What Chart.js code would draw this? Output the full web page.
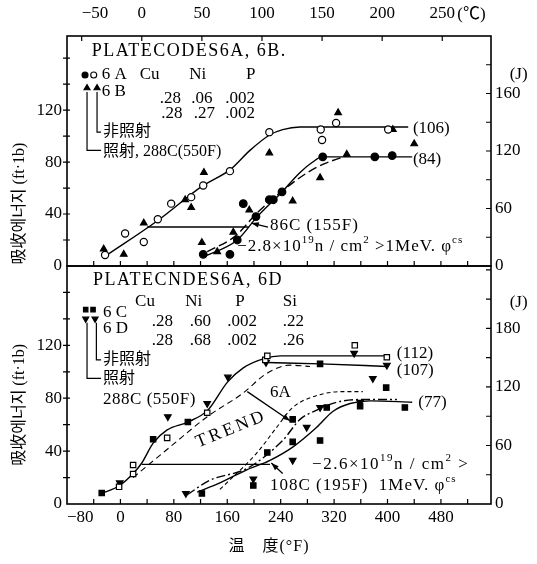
<!DOCTYPE html>
<html>
<head>
<meta charset="utf-8">
<script src="https://cdn.jsdelivr.net/npm/chart.js"></script>
<style>
  body { margin: 0; background: #fff; }
  canvas { position: absolute; left: 0; top: 0; }
</style>
</head>
<body>
<canvas id="topPanel" width="537" height="564"></canvas>
<canvas id="botPanel" width="537" height="564"></canvas>
<script>
// axis ranges and tick labels
const F_MIN = -80, F_MAX = 555;
const FT_MAX_TOP = 177, FT_MAX_BOT = 180;
const FT_TO_J = 1.3558;
const fTicks = [-80, 0, 80, 160, 240, 320, 400, 480];
const cTicks = [-50, 0, 50, 100, 150, 200, 250];
const ftTicks = [0, 40, 80, 120];
const jTicks = [0, 60, 120, 180];
const jLabelsTop = ['0', '60', '120', '160'];
const jLabelsBot = ['0', '60', '120', '180'];

// top panel, plates 6A / 6B  [temp °F, energy ft-lb]
const top6AUnirr = [[-23,8.5],[7,25],[35,18.5],[56,36],[76,48],[106,53],[124,62],[164,73],[223,103],[300,105],[302,97],[323,110],[401,105]];
const top6AIrr = [[124,9],[164,9],[175,20],[184,48],[203,38],[223,51],[229,51],[242,57],[303,84],[381,84],[407,85]];
const top6BUnirr = [[-25,13],[5,9],[35,33],[97,51],[106,45],[125,72],[223,87],[326,118],[408,105],[440,94]];
const top6BIrr = [[122,18],[145,11],[169,26],[193,43],[258,50],[299,68],[339,86]];
const topCurveUnirr = [[-20,8.5],[56,35],[124,62],[164,74],[194,89],[224,101],[243,105],[269,107],[299,107],[431,107]];
const topCurve6AIrr = [[124,7],[175,20],[205,38],[242,57],[269,72],[288,80],[302,84],[437,84]];
const topCurve6BIrr = [[130,11],[172,23],[205,41],[258,64],[294,76],[339,85]];
const topShift = [[40,30],[192,30]];

// bottom panel, plates 6C / 6D
const bot6CUnirr = [[-2,13],[19,29.5],[19,22.7],[70,50],[130,69],[217,109],[220,112],[351,120],[399,111]];
const bot6CFilled = [[-28,8.3],[49,49],[101,62],[299,106],[398,88],[122,8],[199,14],[220,39],[258,47],[258,64],[299,48],[309,73],[359,74],[426,73]];
const bot6DUnirr = [[-1,16],[71,66],[130,76],[161,96],[218,107],[350,114],[399,105],[378,95]];
const bot6DIrr = [[98,8],[199,19],[258,33],[279,58],[299,73],[359,77]];
const botCurve112 = [[-28,8],[-1,14],[19,23],[32,31],[49,46],[70,56],[101,62],[131,71],[160,92],[184,103],[215,110],[240,112],[399,112]];
const botCurve107 = [[220,107],[300,106],[399,104]];
const botTrendUnirr = [[19,20],[74,43],[130,66],[184,84],[217,98],[254,105],[284,104]];
const botTrendIrr = [[149,11],[205,39],[234,58],[258,73],[294,82],[333,85],[363,85]];
const botCurve6DIrr = [[100,7],[134,18],[190,27],[243,48],[269,64],[294,71],[324,77],[359,79],[414,79]];
const botCurve6CIrr = [[115,9],[149,16],[190,26],[224,33],[258,43],[294,58],[318,70],[344,76],[374,78],[437,77]];
const botShift = [[32,30],[224,30]];

const FONT = "'Liberation Serif', 'Noto Sans CJK KR', serif";
const toC = f => (f - 32) / 1.8;
const minus = v => (v < 0 ? '\u2212' + Math.abs(v) : String(v));

function pts(a) { return a.map(p => ({ x: p[0], y: p[1] })); }

function markers(data, style, fill, r, rot) {
  return {
    data: pts(data), showLine: false, pointStyle: style, pointRadius: r,
    pointRotation: rot || 0, pointBackgroundColor: fill, pointBorderColor: '#000', pointBorderWidth: 1.2
  };
}
function curve(data, dash, w) {
  return {
    data: pts(data), showLine: true, pointRadius: 0, borderColor: '#000',
    borderWidth: w || 1.4, borderDash: dash || [], cubicInterpolationMode: 'monotone', fill: false
  };
}

function drawRich(ctx, str, x, y, size, sp) {
  const parts = str.split(/\^\{([^}]*)\}/);
  let cx = x;
  parts.forEach((p, i) => {
    if (!p) return;
    const sup = i % 2 === 1;
    ctx.font = (sup ? Math.round(size * 0.62) : size) + 'px ' + FONT;
    ctx.letterSpacing = (sp || 0) + 'px';
    ctx.fillText(p, cx, sup ? y - size * 0.38 : y);
    cx += ctx.measureText(p).width;
  });
  ctx.letterSpacing = '0px';
}

function symbol(ctx, kind, x, y, r) {
  ctx.beginPath();
  if (kind === 'dot' || kind === 'ring') {
    ctx.arc(x, y, r, 0, Math.PI * 2);
  } else if (kind === 'tri') {
    ctx.moveTo(x, y - r); ctx.lineTo(x + r * 0.87, y + r * 0.5); ctx.lineTo(x - r * 0.87, y + r * 0.5); ctx.closePath();
  } else if (kind === 'vtri') {
    ctx.moveTo(x, y + r); ctx.lineTo(x + r * 0.87, y - r * 0.5); ctx.lineTo(x - r * 0.87, y - r * 0.5); ctx.closePath();
  } else {
    ctx.rect(x - r * 0.7, y - r * 0.7, r * 1.4, r * 1.4);
  }
  ctx.fillStyle = kind === 'ring' ? '#fff' : '#000';
  ctx.fill();
  ctx.lineWidth = 1.1;
  ctx.stroke();
  ctx.fillStyle = '#000';
}

const notesPlugin = {
  id: 'notes',
  afterDraw(chart, args, opts) {
    const ctx = chart.ctx, a = chart.chartArea;
    const sx = chart.scales.x, sy = chart.scales.y, sj = chart.scales.yJ;
    const P = (q) => [sx.getPixelForValue(q[0]), sy.getPixelForValue(q[1])];
    ctx.save();
    ctx.strokeStyle = '#000';
    ctx.fillStyle = '#000';
    ctx.lineWidth = 1.6;
    ctx.strokeRect(a.left, a.top, a.right - a.left, a.bottom - a.top);

    ctx.lineWidth = 1.2;
    ctx.beginPath();
    for (let v = 20; v < sy.max; v += 20) {
      const y = sy.getPixelForValue(v);
      ctx.moveTo(a.left - 4, y); ctx.lineTo(a.left + 3, y);
    }
    for (let v = 30; v < sj.max; v += 30) {
      const y = sj.getPixelForValue(v);
      ctx.moveTo(a.right, y); ctx.lineTo(a.right - 5, y);
    }
    for (let v = -40; v < sx.max; v += 40) {
      const x = sx.getPixelForValue(v);
      ctx.moveTo(x, a.bottom); ctx.lineTo(x, a.bottom - 5);
    }
    if (chart.scales.xC) {
      cTicks.forEach(v => {
        const x = chart.scales.xC.getPixelForValue(v);
        ctx.moveTo(x, a.top); ctx.lineTo(x, a.top + 5);
      });
    }
    ctx.stroke();

    (opts.lines || []).forEach(l => {
      ctx.beginPath();
      l.forEach((q, i) => { const p = P(q); i ? ctx.lineTo(p[0], p[1]) : ctx.moveTo(p[0], p[1]); });
      ctx.lineWidth = 1.2;
      ctx.stroke();
    });
    (opts.arrows || []).forEach(ar => {
      const p0 = P(ar[0]), p1 = P(ar[1]);
      const ang = Math.atan2(p1[1] - p0[1], p1[0] - p0[0]);
      ctx.beginPath();
      ctx.moveTo(p0[0], p0[1]); ctx.lineTo(p1[0], p1[1]);
      ctx.lineWidth = 1.3;
      ctx.stroke();
      ctx.beginPath();
      ctx.moveTo(p1[0], p1[1]);
      ctx.lineTo(p1[0] - 8 * Math.cos(ang - 0.35), p1[1] - 8 * Math.sin(ang - 0.35));
      ctx.lineTo(p1[0] - 8 * Math.cos(ang + 0.35), p1[1] - 8 * Math.sin(ang + 0.35));
      ctx.closePath();
      ctx.fill();
    });
    (opts.symbols || []).forEach(s => { const p = P(s.at); symbol(ctx, s.kind, p[0], p[1], s.r); });

    ctx.textBaseline = 'middle';
    ctx.textAlign = 'left';
    (opts.texts || []).forEach(t => {
      const p = P(t.at);
      ctx.save();
      ctx.translate(p[0], p[1]);
      if (t.rot) ctx.rotate(t.rot * Math.PI / 180);
      drawRich(ctx, t.t, 0, 0, t.size || 17, t.sp || 0);
      ctx.restore();
    });

    if (opts.yTitle) {
      ctx.save();
      ctx.translate(a.left - 47, sy.getPixelForValue(opts.yTitle.at));
      ctx.rotate(-Math.PI / 2);
      ctx.textAlign = 'center';
      ctx.font = '16px ' + FONT;
      ctx.fillText(opts.yTitle.t, 0, 0);
      ctx.restore();
    }
    if (chart.scales.xC) {
      ctx.font = '17px ' + FONT;
      ctx.fillText('(\u2103)', chart.scales.xC.getPixelForValue(250) + 15, 15);
    }
    if (opts.xTitle) {
      ctx.font = '16px ' + FONT;
      ctx.textAlign = 'center';
      ctx.letterSpacing = '1px';
      ctx.fillText(opts.xTitle, (a.left + a.right) / 2 - 10, 547);
      ctx.letterSpacing = '0px';
    }
    ctx.restore();
  }
};

function tickFont() { return { family: FONT, size: 17 }; }

function yScales(max, jLabels) {
  return {
    y: {
      position: 'left', min: 0, max: max,
      grid: { display: false, drawTicks: false }, border: { display: false },
      ticks: { font: tickFont(), color: '#000', padding: 5, callback: v => minus(v) },
      afterBuildTicks: s => { s.ticks = ftTicks.map(v => ({ value: v })); },
      afterFit: s => { s.width = 67; }
    },
    yJ: {
      position: 'right', min: 0, max: max * FT_TO_J,
      grid: { display: false, drawTicks: false }, border: { display: false },
      ticks: { font: tickFont(), color: '#000', padding: 4, callback: (v, i) => jLabels[i] },
      afterBuildTicks: s => { s.ticks = jTicks.map(v => ({ value: v })); },
      afterFit: s => { s.width = 46; }
    }
  };
}

// top panel
const topScales = Object.assign({
  x: { type: 'linear', min: F_MIN, max: F_MAX, display: false },
  xC: {
    type: 'linear', position: 'top', min: toC(F_MIN), max: toC(F_MAX),
    grid: { display: false, drawTicks: false }, border: { display: false },
    ticks: { font: tickFont(), color: '#000', padding: 12, align: 'inner', callback: v => (cTicks.includes(v) ? minus(v) : '') },
    afterBuildTicks: s => { s.ticks = cTicks.concat([toC(F_MAX)]).map(v => ({ value: v })); },
    afterFit: s => { s.height = 36; }
  }
}, yScales(FT_MAX_TOP, jLabelsTop));

new Chart('topPanel', {
  type: 'scatter',
  data: {
    datasets: [
      markers(top6AUnirr, 'circle', '#fff', 3.6),
      markers(top6AIrr, 'circle', '#000', 3.8),
      markers(top6BUnirr, 'triangle', '#000', 3.8),
      markers(top6BIrr, 'triangle', '#000', 3.8),
      curve(topCurveUnirr),
      curve(topCurve6AIrr),
      curve(topCurve6BIrr, [9, 4]),
      curve(topShift)
    ]
  },
  options: {
    responsive: false, animation: false, devicePixelRatio: 1,
    layout: { padding: { top: 0, bottom: 564 - 266, left: 0, right: 0 } },
    scales: topScales,
    plugins: {
      legend: { display: false }, tooltip: { enabled: false },
      notes: {
        yTitle: { t: '吸收에너지 (ft·1b)', at: 48 },
        texts: [
          { t: 'PLATECODES6A, 6B.', at: [-43, 165], size: 18, sp: 1.5 },
          { t: '6 A', at: [-28, 147] }, { t: 'Cu', at: [29, 147] }, { t: 'Ni', at: [103, 147] }, { t: 'P', at: [188, 147] },
          { t: '6 B', at: [-28, 134] },
          { t: '.28', at: [59, 129] }, { t: '.06', at: [106, 129] }, { t: '.002', at: [157, 129] },
          { t: '.28', at: [61, 117] }, { t: '.27', at: [110, 117] }, { t: '.002', at: [157, 117] },
          { t: '非照射', at: [-26, 103], size: 16 },
          { t: '照射, 288C(550F)', at: [-26, 88], size: 16 },
          { t: '(106)', at: [438, 106] },
          { t: '(84)', at: [438, 82] },
          { t: '86C (155F)', at: [224, 31], sp: 1 },
          { t: '\u22122.8\u00d710^{19}n / cm^{2} >1MeV. \u03c6^{cs}', at: [175, 15], sp: 1 },
          { t: '(J)', at: [583, 147] }
        ],
        symbols: [
          { kind: 'dot', at: [-53, 147], r: 3 }, { kind: 'ring', at: [-40, 147], r: 3 },
          { kind: 'tri', at: [-50, 137], r: 3.5 }, { kind: 'tri', at: [-35, 137], r: 3.5 }
        ],
        lines: [
          [[-50, 134], [-50, 89], [-29, 89]],
          [[-35, 134], [-35, 103], [-29, 103]]
        ],
        arrows: [[[221, 30], [196, 33]]]
      }
    }
  },
  plugins: [notesPlugin]
});

// bottom panel
const botScales = Object.assign({
  x: {
    type: 'linear', position: 'bottom', min: F_MIN, max: F_MAX,
    grid: { display: false, drawTicks: false }, border: { display: false },
    ticks: { font: tickFont(), color: '#000', padding: 3, align: 'inner', callback: v => (fTicks.includes(v) ? minus(v) : '') },
    afterBuildTicks: s => { s.ticks = fTicks.concat([F_MAX]).map(v => ({ value: v })); },
    afterFit: s => { s.height = 60; }
  }
}, yScales(FT_MAX_BOT, jLabelsBot));

new Chart('botPanel', {
  type: 'scatter',
  data: {
    datasets: [
      markers(bot6CUnirr, 'rect', '#fff', 3.8),
      markers(bot6CFilled, 'rect', '#000', 3.8),
      markers(bot6DUnirr, 'triangle', '#000', 3.8, 180),
      markers(bot6DIrr, 'triangle', '#000', 3.8, 180),
      curve(botCurve112),
      curve(botCurve107),
      curve(botTrendUnirr, [6, 4], 1.1),
      curve(botTrendIrr, [4, 3], 1.1),
      curve(botCurve6DIrr, [9, 3, 2, 3]),
      curve(botCurve6CIrr),
      curve(botShift)
    ]
  },
  options: {
    responsive: false, animation: false, devicePixelRatio: 1,
    layout: { padding: { top: 266, bottom: 0, left: 0, right: 0 } },
    scales: botScales,
    plugins: {
      legend: { display: false }, tooltip: { enabled: false },
      notes: {
        yTitle: { t: '吸收에너지 (ft·1b)', at: 75 },
        xTitle: '温　度(°F)',
        texts: [
          { t: 'PLATECNDES6A, 6D', at: [-41, 169], size: 18, sp: 1.5 },
          { t: '6 C', at: [-26, 145] }, { t: 'Cu', at: [22, 153] }, { t: 'Ni', at: [97, 153] }, { t: 'P', at: [172, 153] }, { t: 'Si', at: [243, 153] },
          { t: '6 D', at: [-26, 133] },
          { t: '.28', at: [47, 138] }, { t: '.60', at: [104, 138] }, { t: '.002', at: [160, 138] }, { t: '.22', at: [243, 138] },
          { t: '.28', at: [47, 124] }, { t: '.68', at: [104, 124] }, { t: '.002', at: [160, 124] }, { t: '.26', at: [243, 124] },
          { t: '非照射', at: [-26, 109], size: 16 },
          { t: '照射', at: [-26, 95], size: 16 },
          { t: '288C (550F)', at: [-26, 79], sp: 0.5 },
          { t: 'TREND', at: [114, 46], size: 18, sp: 3, rot: -22 },
          { t: '6A', at: [224, 84] },
          { t: '(112)', at: [414, 114] },
          { t: '(107)', at: [414, 101] },
          { t: '(77)', at: [446, 77] },
          { t: '\u22122.6\u00d710^{19}n / cm^{2} >', at: [287, 30], sp: 1.5 },
          { t: '108C (195F)  1MeV. \u03c6^{cs}', at: [224, 14], sp: 1 },
          { t: '(J)', at: [583, 152] }
        ],
        symbols: [
          { kind: 'sq', at: [-52, 147], r: 3.2 }, { kind: 'sq', at: [-41, 147], r: 3.2 },
          { kind: 'vtri', at: [-52, 140], r: 3.5 }, { kind: 'vtri', at: [-38, 140], r: 3.5 }
        ],
        lines: [
          [[-50, 137], [-50, 95], [-29, 95]],
          [[-36, 137], [-36, 109], [-29, 109]]
        ],
        arrows: [[[243, 23], [226, 31]], [[190, 85], [254, 63]]]
      }
    }
  },
  plugins: [notesPlugin]
});
</script>
</body>
</html>
